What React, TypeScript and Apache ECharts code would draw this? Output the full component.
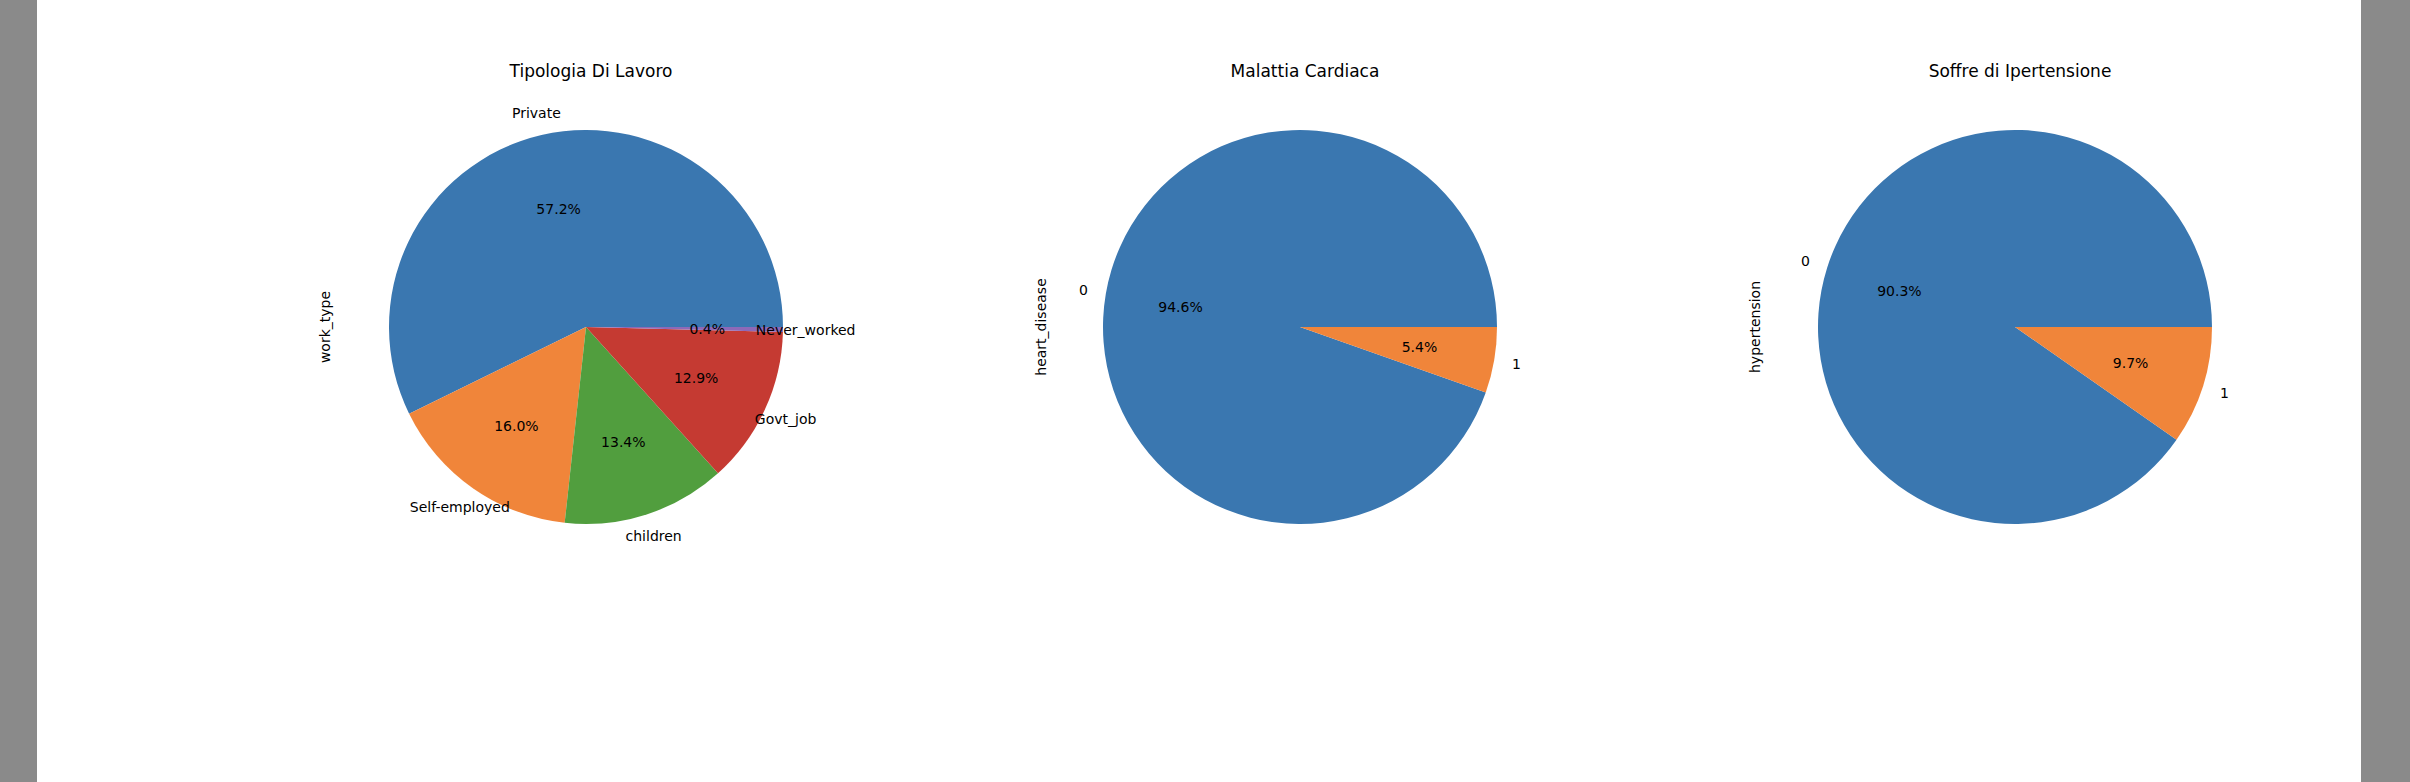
import { useEffect, useRef } from "react";
import * as echarts from "echarts";

const workLabels = ["Private", "Self-employed", "children", "Govt_job", "Never_worked"];
const workValues = [57.2, 16.0, 13.4, 12.9, 0.4];
const heartLabels = ["0", "1"];
const heartValues = [94.6, 5.4];
const hyperLabels = ["0", "1"];
const hyperValues = [90.3, 9.7];

const colors = ["#3a77b0", "#f0853a", "#519e3e", "#c53a32", "#8d69b8"];
const font = "DejaVu Sans";
const R = 197;

function pieSeries(cx: number, labels: string[], values: number[]) {
  const total = values.reduce((a, b) => a + b, 0);
  let acc = 0;
  const mids = values.map((v) => {
    const m = (acc + v / 2) / total * 2 * Math.PI;
    acc += v;
    return m;
  });
  const base = {
    type: "pie" as const,
    center: [cx, 327],
    startAngle: 0,
    clockwise: false,
    animation: false,
    silent: true,
    avoidLabelOverlap: false,
    labelLine: { show: false },
    emphasis: { disabled: true },
  };
  return [
    {
      ...base,
      radius: [0, R],
      label: { show: false },
      data: values.map((v, i) => ({ value: v, name: labels[i], itemStyle: { color: colors[i] } })),
    },
    {
      ...base,
      radius: [R * 0.2, R],
      itemStyle: { color: "transparent" },
      label: {
        show: true,
        position: "inside",
        fontFamily: font,
        fontSize: 14,
        color: "#000",
        formatter: (p: any) => p.value.toFixed(1) + "%",
      },
      data: values.map((v, i) => ({ value: v, name: labels[i] })),
    },
    {
      ...base,
      radius: [R, R * 1.2],
      itemStyle: { color: "transparent" },
      data: values.map((v, i) => ({
        value: v,
        name: labels[i],
        label: {
          show: true,
          position: "inside",
          fontFamily: font,
          fontSize: 14,
          color: "#000",
          align: Math.cos(mids[i]) >= 0 ? "left" : "right",
          formatter: "{b}",
        },
      })),
    },
  ];
}

export default function App() {
  const ref = useRef<HTMLDivElement>(null);

  useEffect(() => {
    document.body.style.margin = "0";
    const chart = echarts.init(ref.current!, undefined, { renderer: "svg" });
    const titleStyle = { fontFamily: font, fontSize: 17, fontWeight: "normal" as const, color: "#000" };
    const axisText = (x: number, text: string) => ({
      type: "text",
      x,
      y: 327,
      rotation: Math.PI / 2,
      style: { text, fontFamily: font, fontSize: 14, fill: "#000", align: "center", verticalAlign: "middle" },
    });
    chart.setOption({
      animation: false,
      backgroundColor: "#8a8a8a",
      title: [
        { text: "Tipologia Di Lavoro", left: 586, top: 57, textAlign: "center", textStyle: titleStyle },
        { text: "Malattia Cardiaca", left: 1300, top: 57, textAlign: "center", textStyle: titleStyle },
        { text: "Soffre di Ipertensione", left: 2015, top: 57, textAlign: "center", textStyle: titleStyle },
      ],
      graphic: [
        { type: "rect", z: -10, shape: { x: 37, y: 0, width: 2324, height: 782 }, style: { fill: "#fff" } },
        axisText(325, "work_type"),
        axisText(1041, "heart_disease"),
        axisText(1755, "hypertension"),
      ],
      series: [
        ...pieSeries(586, workLabels, workValues),
        ...pieSeries(1300, heartLabels, heartValues),
        ...pieSeries(2015, hyperLabels, hyperValues),
      ],
    });
    return () => chart.dispose();
  }, []);

  return <div ref={ref} style={{ width: 2410, height: 782 }} />;
}
